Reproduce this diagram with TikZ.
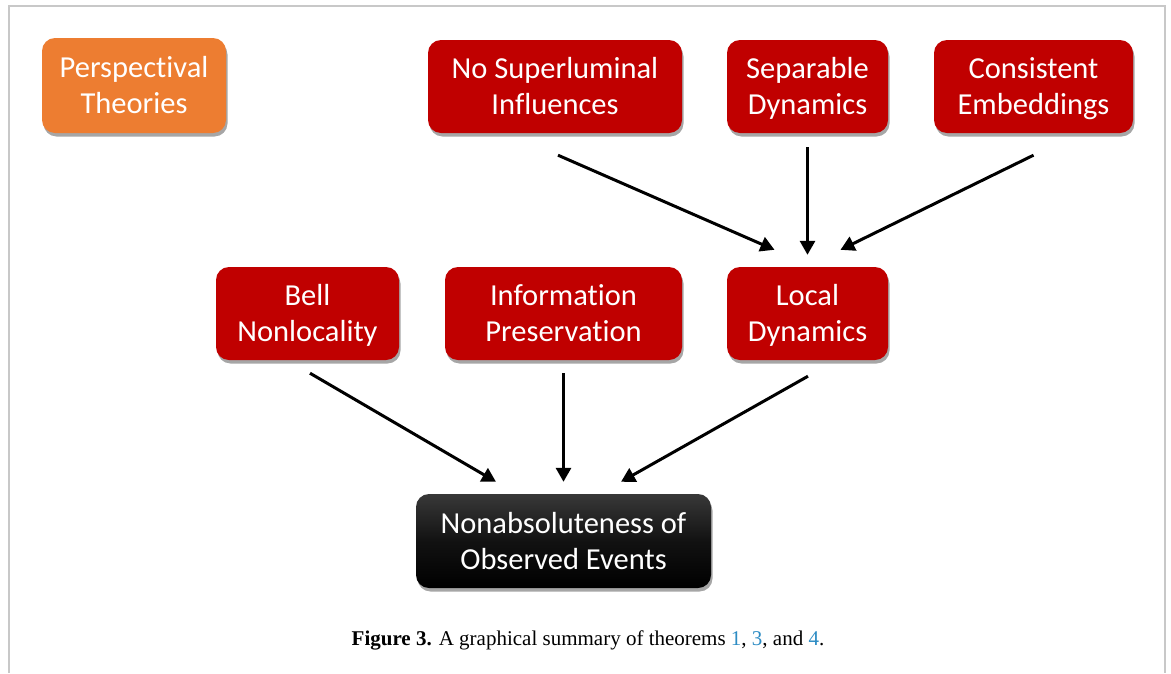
\documentclass[tikz,border=0pt]{standalone}
\usepackage{fontspec}
\setmainfont{Liberation Serif}
\newfontfamily\boxfont[Ligatures=NoCommon]{Carlito}
\usetikzlibrary{arrows.meta,shadows,calc}
\definecolor{boxred}{HTML}{C00000}
\definecolor{boxorange}{HTML}{ED7D31}
\definecolor{linkblue}{HTML}{2D8CC4}
\definecolor{framegray}{HTML}{C8C8C8}
\newcommand\cardlines[2]{\rule{0pt}{31pt}#1\\#2\rule[-10.8pt]{0pt}{10.8pt}}
\tikzset{
  card/.style={rounded corners=13pt, minimum height=93pt, text=white, align=center,
    font=\boxfont\fontsize{30.5}{36}\selectfont, inner sep=0pt,
    drop shadow={shadow xshift=1.5pt, shadow yshift=-3.5pt, fill=black, opacity=0.35}},
  redcard/.style={card, fill=boxred},
  orangecard/.style={card, fill=boxorange},
  blackcard/.style={card, top color=black!78, bottom color=black, middle color=black!93},
  arr/.style={line width=3pt, -{Triangle[length=14pt,width=15pt]}, black},
}
\begin{document}
\begin{tikzpicture}[x=1pt,y=1pt]
\useasboundingbox (0,0) rectangle (1171,-673);
\fill[white] (0,0) rectangle (1171,-673);
\draw[framegray, line width=2pt] (9,-673) -- (9,-6) -- (1165,-6) -- (1165,-673);

\node[orangecard, minimum width=184pt, minimum height=95pt] (pt) at (134,-85.5) {\cardlines{Perspectival}{Theories}};
\node[redcard, minimum width=254pt] (nsi) at (555,-86.5) {\cardlines{No Superluminal}{Influences}};
\node[redcard, minimum width=161pt] (sd) at (807.5,-86.5) {\cardlines{Separable}{Dynamics}};
\node[redcard, minimum width=199pt] (ce) at (1033.5,-86.5) {\cardlines{Consistent}{Embeddings}};
\node[redcard, minimum width=183pt] (bn) at (307.5,-313.5) {\cardlines{Bell}{Nonlocality}};
\node[redcard, minimum width=237pt] (ip) at (563.5,-313.5) {\cardlines{Information}{Preservation}};
\node[redcard, minimum width=161pt] (ld) at (807.5,-313.5) {\cardlines{Local}{Dynamics}};
\node[blackcard, minimum width=295pt, minimum height=94pt] (nae) at (563.5,-541) {\cardlines{Nonabsoluteness of}{Observed Events}};

\draw[arr] ($(nsi.south)+(3,-22)$) -- ($(ld.north)+(-33,17)$);
\draw[arr] ($(sd.south)+(0,-14)$) -- ($(ld.north)+(0,12)$);
\draw[arr] ($(ce.south)+(0,-22)$) -- ($(ld.north)+(33,17)$);
\draw[arr] ($(bn.south)+(2.5,-13)$) -- ($(nae.north)+(-67.5,12)$);
\draw[arr] ($(ip.south)+(0,-13)$) -- ($(nae.north)+(0,12)$);
\draw[arr] ($(ld.south)+(0.5,-16)$) -- ($(nae.north)+(57.5,12)$);

\node[font=\fontsize{21}{24}\selectfont, inner sep=0pt] (cap) at (588,-640)
  {\textbf{Figure 3.} A graphical summary of theorems \textcolor{linkblue}{1}, \textcolor{linkblue}{3}, and \textcolor{linkblue}{4}.};
\end{tikzpicture}
\end{document}
